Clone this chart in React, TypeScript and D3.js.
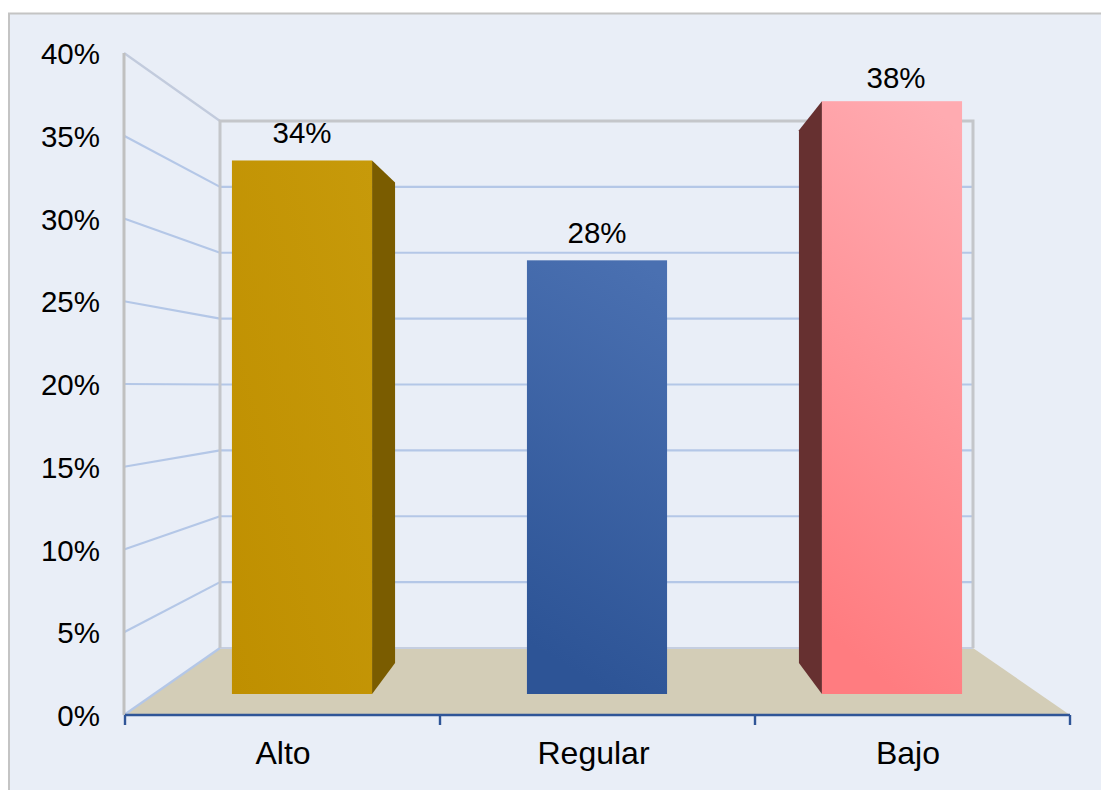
import React from "react";
import * as d3 from "d3";

const categories = ["Alto", "Regular", "Bajo"];
const values = [34.2, 27.8, 38.0];
const valueLabels = ["34%", "28%", "38%"];
const axisTicks = [0, 5, 10, 15, 20, 25, 30, 35, 40];

const font = "'Liberation Sans', Arial, sans-serif";
const frontY = d3.scaleLinear().domain([0, 40]).range([715, 53]);
const backY = d3.scaleLinear().domain([0, 40]).range([648, 121]);
const barY = d3.scaleLinear().domain([0, 40]).range([694, 70]);
const axisX = d3.scaleBand<string>().domain(categories).range([125, 1070]);
const barX = d3.scaleBand<string>().domain(categories).range([154.5, 1039.5]).paddingInner(0.525).paddingOuter(0.2625);

const gradients = [
  { id: "g0", x1: "0", y1: "1", x2: "1", y2: "0", from: "#BF8F00", to: "#C79A0A" },
  { id: "g1", x1: "0.6", y1: "1", x2: "0.8", y2: "0", from: "#2D5496", to: "#4A70B1" },
  { id: "g2", x1: "0.55", y1: "1", x2: "0.75", y2: "0", from: "#FF7C80", to: "#FFABB1" },
];
const sideFill = ["#7A5C00", "none", "#663030"];
const sideDepth = [23, 0, -23];
const sideTopDrop = [22, 0, 29];
const sideBottomRise = 31;
const labelNudgeX = [0, 0, 4];
const labelNudgeY = [17.5, 17.5, 13];
const catNudgeX = [0.5, -4, -4.5];

export default function App() {
  const poly = (p: number[][]) => p.map((q) => q.join(",")).join(" ");
  return (
    <svg width={1101} height={790} style={{ position: "absolute", left: 0, top: 0, display: "block" }} fontFamily={font}>
      <defs>
        {gradients.map((g) => (
          <linearGradient key={g.id} id={g.id} x1={g.x1} y1={g.y1} x2={g.x2} y2={g.y2}>
            <stop offset="0" stopColor={g.from} />
            <stop offset="1" stopColor={g.to} />
          </linearGradient>
        ))}
      </defs>
      <rect x={0} y={0} width={1101} height={790} fill="#fff" />
      <rect x={9} y={13.5} width={1102} height={790} fill="#E9EEF7" stroke="#C4C4C4" strokeWidth={2} />

      {/* floor */}
      <polygon
        points={poly([[axisX.range()[0], frontY(0)], [axisX.range()[1], frontY(0)], [973, backY(0)], [220, backY(0)]])}
        fill="#D3CDB7"
      />

      {/* grid */}
      {axisTicks.map((t) => (
        <g key={t}>
          {t > 0 && t < 40 && <line x1={220} x2={973} y1={backY(t)} y2={backY(t)} stroke="#B4C7E7" strokeWidth={2.2} />}
          <line x1={124} x2={220} y1={frontY(t)} y2={backY(t)} stroke={t === 40 ? "#C2CBDD" : "#B4C7E7"} strokeWidth={2.2} />
        </g>
      ))}
      <line x1={220} x2={973} y1={backY(0)} y2={backY(0)} stroke="#C5CEE0" strokeWidth={2} />
      <path d={`M220,${backY(0)}V${backY(40)}H973V${backY(0)}`} fill="none" stroke="#C4C6CA" strokeWidth={3} />
      <line x1={124} x2={124} y1={frontY(40)} y2={frontY(0)} stroke="#C0C0C0" strokeWidth={3} />

      {/* axis */}
      <line x1={125} x2={1070} y1={frontY(0)} y2={frontY(0)} stroke="#2F5597" strokeWidth={2.4} />
      {[...categories.map((c) => axisX(c) as number), axisX.range()[1]].map((x) => (
        <line key={x} x1={x} x2={x} y1={frontY(0)} y2={frontY(0) + 10} stroke="#2F5597" strokeWidth={2.4} />
      ))}
      {axisTicks.map((t) => (
        <text key={t} x={100} y={frontY(t) + 11} textAnchor="end" fontSize={29.5} fill="#000">{`${t}%`}</text>
      ))}
      {categories.map((c, i) => (
        <text key={c} x={(axisX(c) as number) + axisX.bandwidth() / 2 + catNudgeX[i]} y={764} textAnchor="middle" fontSize={32} fill="#000">{c}</text>
      ))}

      {/* bars */}
      {categories.map((c, i) => {
        const x0 = barX(c) as number;
        const w = barX.bandwidth();
        const top = barY(values[i]);
        const base = barY(0);
        const edge = sideDepth[i] >= 0 ? x0 + w : x0;
        return (
          <g key={c}>
            {sideDepth[i] !== 0 && (
              <polygon
                points={poly([[edge, top], [edge + sideDepth[i], top + sideTopDrop[i]], [edge + sideDepth[i], base - sideBottomRise], [edge, base]])}
                fill={sideFill[i]}
              />
            )}
            <rect x={x0} y={top} width={w} height={base - top} fill={`url(#g${i})`} />
            <text x={x0 + w / 2 + labelNudgeX[i]} y={top - labelNudgeY[i]} textAnchor="middle" fontSize={29.5} fill="#000">{valueLabels[i]}</text>
          </g>
        );
      })}
    </svg>
  );
}
